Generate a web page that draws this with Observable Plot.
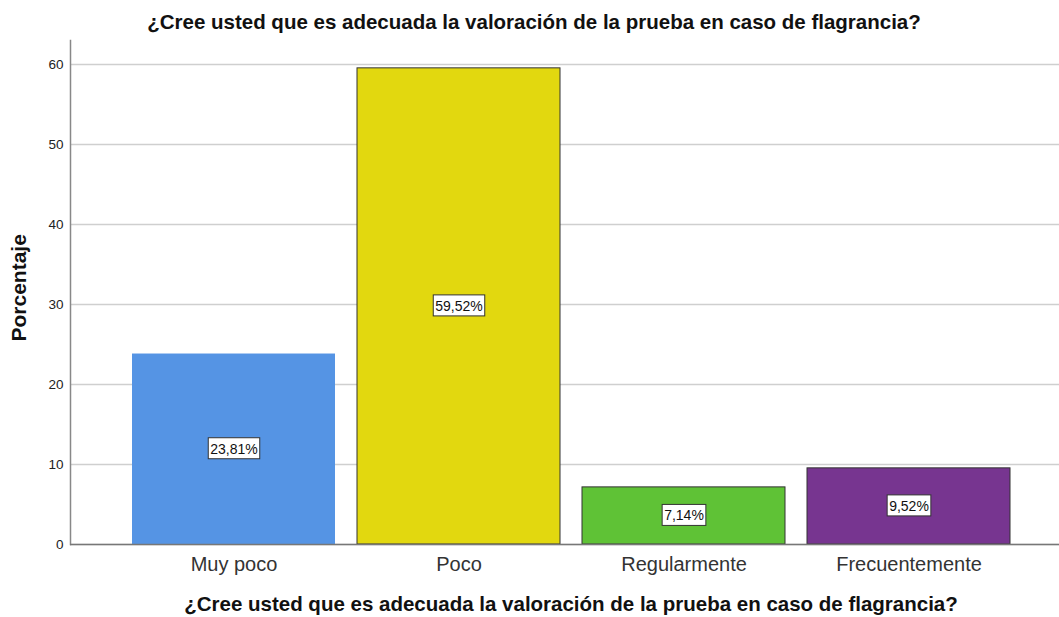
<!DOCTYPE html>
<html><head><meta charset="utf-8">
<script src="https://cdn.jsdelivr.net/npm/d3@7"></script>
<script src="https://cdn.jsdelivr.net/npm/@observablehq/plot@0.6"></script>
<style>
body{margin:0;background:#fff;font-family:"Liberation Sans",Arial,sans-serif;}
#title{width:1068px;height:39px;line-height:44px;text-align:center;font-weight:bold;font-size:20.5px;color:#111;overflow:visible;}
#chart svg{display:block;}
</style></head>
<body>
<div id="title"></div>
<div id="chart"></div>
<script>
const titleText = "¿Cree usted que es adecuada la valoración de la prueba en caso de flagrancia?";
const categories = ["Muy poco", "Poco", "Regularmente", "Frecuentemente"];
const values = [23.81, 59.52, 7.14, 9.52];
const labels = ["23,81%", "59,52%", "7,14%", "9,52%"];
const colors = ["#5594E4", "#E2D80F", "#5FC236", "#773590"];
const strokes = ["none", "#333", "#333", "#333"];
const yTicks = [0, 10, 20, 30, 40, 50, 60];
const yLabel = "Porcentaje";

document.getElementById("title").textContent = titleText;
const data = categories.map((c, i) => ({cat: c, value: values[i], label: labels[i], color: colors[i], stroke: strokes[i]}));

const chart = Plot.plot({
  width: 1059,
  height: 578,
  marginLeft: 70,
  marginRight: 0,
  marginTop: 1,
  marginBottom: 73,
  style: {fontFamily: "'Liberation Sans', Arial, sans-serif", fontSize: "13.5px", color: "#222", background: "#fff"},
  x: {domain: categories, paddingInner: 0.1, paddingOuter: 0.245, align: 0.553, label: null},
  y: {domain: [0, 63], label: null},
  marks: [
    Plot.gridY(yTicks, {stroke: "#cfcfcf", strokeOpacity: 1, strokeWidth: 1.5}),
    Plot.barY(data, {x: "cat", y: "value", fill: "color", stroke: "stroke", strokeWidth: 1}),
    Plot.axisY(yTicks, {tickSize: 0, tickPadding: 7, fontSize: 13.5, fill: "#222", label: null}),
    Plot.axisX({tickSize: 0, tickPadding: 12, fontSize: 20, fill: "#333", label: null}),
    Plot.frame({anchor: "left", stroke: "#888", strokeWidth: 1.5}),
    Plot.ruleY([0], {stroke: "#777", strokeWidth: 1.5}),
    Plot.text(data, {x: "cat", y: d => d.value / 2, text: "label", fontSize: 14, fill: "#111", className: "vlabel"}),
    Plot.text([yLabel], {frameAnchor: "left", rotate: -90, dx: -51, dy: 49, fontSize: 21, fontWeight: "bold", fill: "#111"}),
    Plot.text([titleText], {frameAnchor: "bottom", dy: 66, dx: 6, fontSize: 20.5, fontWeight: "bold", fill: "#111"})
  ]
});
document.getElementById("chart").appendChild(chart);

// white boxes behind value labels
chart.querySelectorAll("g.vlabel text").forEach(t => {
  const b = t.getBBox();
  const r = document.createElementNS("http://www.w3.org/2000/svg", "rect");
  r.setAttribute("x", b.x - 2);
  r.setAttribute("y", b.y - 3);
  r.setAttribute("width", b.width + 4);
  r.setAttribute("height", b.height + 5);
  r.setAttribute("fill", "#fff");
  r.setAttribute("stroke", "#333");
  r.setAttribute("stroke-width", "1");
  const tr = t.getAttribute("transform");
  if (tr) r.setAttribute("transform", tr);
  t.parentNode.insertBefore(r, t);
});
</script>
</body></html>
